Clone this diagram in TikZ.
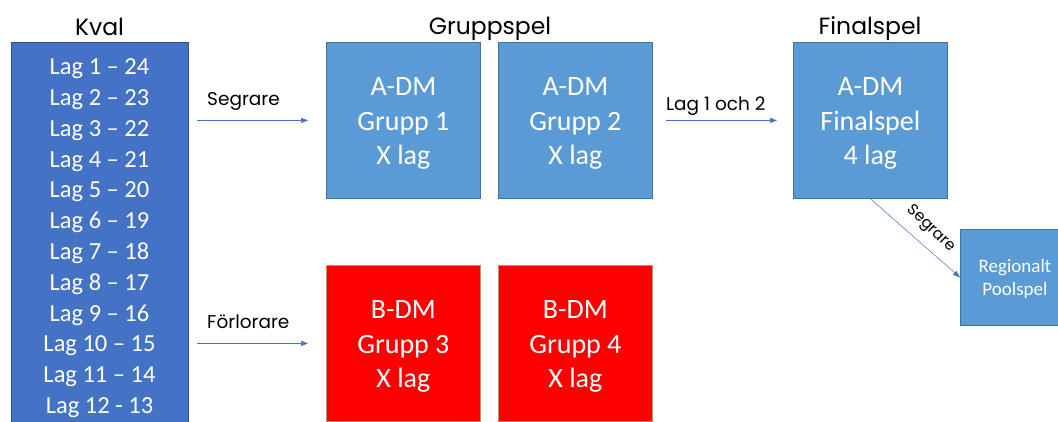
\documentclass[tikz,border=0pt]{standalone}
\usepackage{fontspec}
\setmainfont{Carlito}
\newfontfamily\gothic{Poppins}
\usetikzlibrary{arrows.meta,calc}
\definecolor{kvalblue}{HTML}{4472C4}
\definecolor{kvalborder}{HTML}{2F528F}
\definecolor{boxblue}{HTML}{5B9BD5}
\definecolor{boxborder}{HTML}{41719C}
\definecolor{boxred}{HTML}{FF0000}
\definecolor{redborder}{HTML}{C0906A}
\tikzset{
  kvalbox/.style={draw=kvalborder, line width=0.8pt, fill=kvalblue, inner sep=0pt, anchor=north west},
  bluebox/.style={draw=boxborder, line width=0.8pt, fill=boxblue, inner sep=0pt, minimum width=154pt, minimum height=156pt, anchor=north west},
  redbox/.style={bluebox, draw=redborder, fill=boxred},
  boxtxt/.style={text=white, align=center, inner sep=0pt, anchor=base, font=\fontsize{28}{34.5}\selectfont},
  regbox/.style={draw=boxborder, line width=0.8pt, fill=boxblue, inner sep=0pt, anchor=north west, minimum width=120pt, minimum height=96pt},
  listtxt/.style={text=white, inner sep=0pt, anchor=base, font=\fontsize{24.5}{28}\selectfont},
  title/.style={inner sep=0pt, anchor=base, font=\gothic\fontsize{23.5}{28}\selectfont},
  lbl/.style={inner sep=0pt, font=\gothic\fontsize{18.5}{22}\selectfont},
  arr/.style={draw=kvalblue, line width=0.7pt, -{Triangle[length=7pt,width=5pt]}},
}
\begin{document}
\begin{tikzpicture}[x=1pt,y=-1pt]
\useasboundingbox (0,0) rectangle (1058,422);
\clip (0,0) rectangle (1058,422);
% Kval column
\node[kvalbox, minimum width=177pt, minimum height=392pt] (kval) at (11,42) {};
\node[title] (tkval) at (99.5,36) {Kval};
\foreach \i/\t in {1/{Lag 1 – 24},2/{Lag 2 – 23},3/{Lag 3 – 22},4/{Lag 4 – 21},5/{Lag 5 – 20},6/{Lag 6 – 19},7/{Lag 7 – 18},8/{Lag 8 – 17},9/{Lag 9 – 16},10/{Lag 10 – 15},11/{Lag 11 – 14},12/{Lag 12 - 13}}
  \node[listtxt] (l\i) at (99.5,{75+30.75*(\i-1)}) {\t};
% Gruppspel
\node[title] (tgrupp) at (490,35) {Gruppspel};
\node[bluebox] (g1) at (326,42) {};
\node[bluebox] (g2) at (498,42) {};
\node[redbox] (g3) at (326,265) {};
\node[redbox] (g4) at (498,265) {};
\node[boxtxt] (g1t) at ($(g1.north)+(0,123)$) {A-DM\\Grupp 1\\X lag};
\node[boxtxt] (g2t) at ($(g2.north)+(0,123)$) {A-DM\\Grupp 2\\X lag};
\node[boxtxt] (g3t) at ($(g3.north)+(0,122.5)$) {B-DM\\Grupp 3\\X lag};
\node[boxtxt] (g4t) at ($(g4.north)+(0,122.5)$) {B-DM\\Grupp 4\\X lag};
% Finalspel
\node[title] (tfinal) at (870,35) {Finalspel};
\node[bluebox] (fin) at (793,42) {};
\node[boxtxt] (fint) at ($(fin.north)+(0,123)$) {A-DM\\Finalspel\\4 lag};
\node[regbox] (reg) at (960,229) {};
\node[text=white, align=center, inner sep=0pt, font=\fontsize{19}{23}\selectfont, anchor=base] (regtxt) at (1015,295) {Regionalt\\Poolspel};
% Arrows
\draw[arr, shorten <=8pt, shorten >=18pt] (kval.east |- g1.west) -- (g1.west);
\node[lbl, anchor=base west] (lseg) at (207,106) {Segrare};
\draw[arr, shorten <=8pt, shorten >=18pt] (kval.east |- g3.west) -- (g3.west);
\node[lbl, anchor=base west] (lforl) at (207,328) {Förlorare};
\draw[arr, shorten <=13pt, shorten >=16pt] (g2.east) -- (fin.west);
\node[lbl, anchor=base west] (llag) at (666,111) {Lag 1 och 2};
\draw[arr, line width=0.5pt] (fin.south) -- (reg.west);
\node[inner sep=0pt, font=\gothic\fontsize{15.5}{18}\selectfont, rotate=-44] (lseg2) at (931,229) {Segrare};
\end{tikzpicture}
\end{document}
